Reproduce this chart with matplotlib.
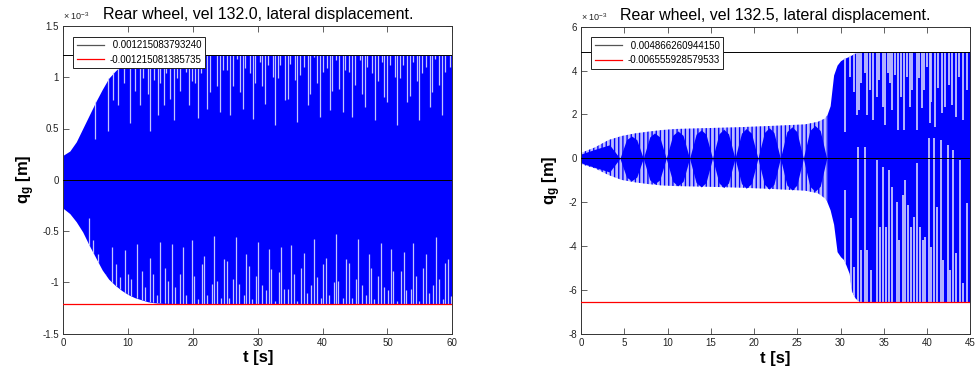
import numpy as np
import matplotlib
matplotlib.use("Agg")
import matplotlib.pyplot as plt
from matplotlib.lines import Line2D
from matplotlib.ticker import FuncFormatter, FixedLocator

plt.rcParams['font.family'] = ['Liberation Sans', 'DejaVu Sans']
plt.rcParams['mathtext.fontset'] = 'custom'
plt.rcParams['mathtext.rm'] = 'Liberation Sans'
plt.rcParams['mathtext.it'] = 'Liberation Sans:italic'
plt.rcParams['mathtext.bf'] = 'Liberation Sans:bold'
plt.rcParams['hatch.color'] = '#0000ff'
plt.rcParams['hatch.linewidth'] = 1.0

MM = 1e-3  # values below are in units of 1e-3 m

# ------------------------------------------------------------------ vel 132.0
a_title = "Rear wheel, vel 132.0, lateral displacement."
a_max = 0.001215083793240
a_min = -0.001215081385735
a_xticks = [0, 10, 20, 30, 40, 50, 60]
a_yticks = [-1.5, -1.0, -0.5, 0.0, 0.5, 1.0, 1.5]
a_xlim = (0, 60)
a_ylim = (-1.5, 1.5)
# signal envelope
a_env_t = [0, 1, 2, 3, 4, 5, 6, 7, 8, 9, 10, 11, 12, 13, 14, 16, 19, 60]
a_env_hi = [0.24, 0.28, 0.37, 0.50, 0.63, 0.76, 0.88, 0.99, 1.06, 1.12, 1.16,
            1.19, 1.21, 1.215, 1.215, 1.215, 1.215, 1.215]
a_env_lo = [-0.28, -0.33, -0.41, -0.51, -0.64, -0.76, -0.88, -0.97, -1.03, -1.08,
            -1.12, -1.15, -1.17, -1.19, -1.20, -1.21, -1.215, -1.215]
# sparse sample gaps reaching in from the upper peaks
a_up_t = [4.9, 6.9, 7.7, 8.5, 9.4, 10.3, 11.1, 11.8, 12.3, 13.1, 13.4, 14.0, 14.6, 14.9, 15.5,
          15.9, 16.5, 17.0, 17.5, 18.0, 19.0, 19.4, 19.8, 20.3, 20.7, 21.2, 22.2, 22.7, 23.7,
          24.2, 24.7, 25.3, 25.7, 26.1, 26.8, 27.3, 27.7, 28.1, 28.8, 29.2, 29.6, 30.3, 30.7,
          31.1, 31.5, 32.3, 32.7, 33.1, 33.5, 34.2, 34.6, 35.0, 35.7, 36.1, 36.5, 37.2, 37.7,
          38.1, 38.6, 39.2, 39.6, 40.0, 40.6, 41.2, 41.5, 42.0, 42.6, 43.1, 43.5, 44.1, 44.6,
          45.0, 45.7, 46.1, 46.5, 46.9, 47.6, 48.1, 48.5, 49.1, 49.5, 50.0, 50.4, 51.1, 51.5,
          51.9, 52.4, 53.0, 53.5, 53.9, 54.5, 54.9, 55.4, 56.0, 56.5, 56.9, 57.4, 58.0, 58.4,
          58.9, 59.6]
a_up_v = [0.40, 0.48, 0.78, 0.73, 0.94, 0.55, 0.87, 0.73, 0.99, 0.84, 0.48, 0.97, 0.63, 0.94,
          0.73, 1.04, 0.79, 0.58, 0.99, 0.87, 1.05, 0.73, 0.96, 0.94, 0.60, 1.04, 0.69, 0.86,
          0.91, 0.66, 1.07, 1.07, 0.63, 0.91, 1.18, 0.86, 0.69, 1.09, 1.04, 0.59, 0.94, 1.15,
          0.91, 0.74, 1.12, 1.00, 0.53, 0.99, 1.12, 0.78, 0.79, 1.13, 0.97, 0.56, 1.02, 1.10,
          0.73, 0.84, 1.20, 0.94, 0.61, 1.05, 1.09, 0.68, 0.87, 1.17, 0.89, 0.66, 1.07, 1.05,
          0.61, 0.92, 1.17, 0.84, 0.71, 1.10, 1.04, 0.58, 0.96, 1.15, 0.81, 0.76, 1.12, 1.00,
          0.53, 0.99, 1.12, 0.76, 0.82, 1.15, 0.96, 0.58, 1.04, 1.10, 0.71, 0.86, 1.18, 0.92,
          0.63, 1.05, 1.10]
# sparse sample gaps reaching in from the lower peaks
a_lo_t = [3.9, 4.6, 5.4, 6.4, 7.5, 8.2, 8.7, 9.5, 10.0, 10.5, 11.4, 12.1, 12.6, 13.4, 13.9,
          14.4, 14.9, 15.7, 16.2, 16.7, 17.2, 18.0, 18.5, 19.0, 19.8, 20.2, 20.7, 21.4, 21.7,
          22.1, 22.9, 23.3, 23.7, 24.3, 24.8, 25.2, 25.6, 26.2, 26.7, 27.1, 27.8, 28.2, 28.7,
          29.1, 29.7, 30.1, 30.6, 31.3, 31.7, 32.1, 32.7, 33.2, 33.6, 34.1, 34.7, 35.1, 35.6,
          36.1, 36.6, 37.1, 37.6, 38.2, 38.6, 39.1, 39.7, 40.1, 40.5, 41.0, 41.7, 42.0, 42.4,
          43.2, 43.6, 44.0, 44.5, 45.1, 45.5, 46.0, 46.7, 47.1, 47.5, 47.9, 48.6, 49.0, 49.4,
          50.1, 50.5, 50.9, 51.4, 52.1, 52.5, 52.9, 53.6, 54.0, 54.4, 54.9, 55.5, 55.9, 56.4,
          57.0, 57.5, 57.9, 58.5, 58.9, 59.4, 59.8]
a_lo_v = [-0.37, -0.59, -0.72, -0.92, -0.66, -0.82, -0.95, -0.69, -0.92, -0.97, -0.63, -0.89,
          -1.05, -0.76, -0.92, -1.12, -0.61, -0.86, -0.99, -0.63, -1.05, -0.92, -0.66, -1.12,
          -0.59, -0.94, -1.16, -0.82, -0.74, -1.12, -1.02, -0.55, -0.99, -1.15, -0.77, -0.79,
          -1.15, -0.97, -0.56, -1.02, -1.12, -0.72, -0.84, -1.16, -0.94, -0.61, -1.03, -1.08,
          -0.68, -0.87, -1.18, -0.90, -0.66, -1.07, -1.07, -0.64, -0.92, -1.18, -0.86, -0.71,
          -1.10, -1.03, -0.58, -0.95, -1.15, -0.82, -0.76, -1.12, -1.00, -0.53, -0.99, -1.15,
          -0.77, -0.81, -1.15, -0.97, -0.58, -1.03, -1.12, -0.72, -0.86, -1.16, -0.94, -0.62,
          -1.05, -1.08, -0.68, -0.89, -1.18, -0.89, -0.70, -1.08, -1.07, -0.62, -0.94, -1.18,
          -0.86, -0.72, -1.10, -1.03, -0.56, -0.97, -1.16, -0.81, -0.77, -1.13]

# ------------------------------------------------------------------ vel 132.5
b_title = "Rear wheel, vel 132.5, lateral displacement."
b_max = 0.004866260944150
b_min = -0.006555928579533
b_xticks = [0, 5, 10, 15, 20, 25, 30, 35, 40, 45]
b_yticks = [-8, -6, -4, -2, 0, 2, 4, 6]
b_xlim = (0, 45)
b_ylim = (-8, 6)
b_env_t = [0, 1.6, 3.2, 4.7, 6.25, 7.8, 9.3, 10.9, 14.5, 18.2, 22.0, 25.9, 27.4, 28.2, 28.4,
           28.8, 29.2, 29.6, 30.0, 30.4, 31.0, 31.3, 31.7, 32.1, 32.3, 45]
b_env_hi = [0.25, 0.50, 0.84, 1.02, 1.14, 1.22, 1.29, 1.34, 1.38, 1.42, 1.48, 1.55, 1.67, 1.82,
            1.95, 2.4, 3.8, 4.25, 4.45, 4.55, 4.65, 4.72, 4.80, 4.866, 4.866, 4.866]
b_env_lo = [-0.26, -0.45, -0.76, -0.98, -1.09, -1.17, -1.23, -1.26, -1.29, -1.33, -1.39, -1.47,
            -1.59, -1.82, -1.95, -2.35, -3.0, -4.25, -4.48, -4.63, -5.24, -6.07, -6.37, -6.50,
            -6.556, -6.556]
# dense core of the beating oscillation before the jump
b_lobe_t = [0.0, 1.5, 3.3, 4.5, 5.25, 5.85, 6.45, 7.2, 7.95, 8.5, 9.1, 9.85, 10.6, 11.2, 11.8,
            12.55, 13.3, 13.9, 14.45, 15.2, 15.95, 16.5, 17.05, 17.8, 18.55, 19.1, 19.7, 20.45,
            21.2, 21.75, 22.3, 23.05, 23.8, 24.4, 24.95, 25.7, 26.45, 27.05, 27.65, 28.4]
b_lobe_a = [0.20, 0.40, 0.62, 0.0, 0.85, 1.02, 0.85, 0.0, 0.98, 1.16, 0.98, 0.0, 1.05, 1.25,
            1.05, 0.0, 1.10, 1.30, 1.10, 0.0, 1.12, 1.33, 1.12, 0.0, 1.15, 1.36, 1.15, 0.0,
            1.18, 1.40, 1.18, 0.0, 1.22, 1.44, 1.22, 0.0, 1.27, 1.50, 1.27, 0.0]
b_jump_t = 28.4
b_up_t = [30.5, 31.1, 31.5, 31.9, 32.1, 32.4, 32.8, 33.1, 33.4, 33.8, 34.2, 34.5, 34.9, 35.1,
          35.5, 35.7, 36.0, 36.3, 36.7, 37.0, 37.3, 37.7, 38.0, 38.3, 38.8, 39.1, 39.4, 39.7,
          40.0, 40.3, 40.5, 40.9, 41.3, 41.7, 42.1, 42.5, 42.9, 43.3, 43.7, 44.1, 44.6]
b_up_v = [1.22, 3.72, 3.04, 1.98, 2.20, 3.42, 3.88, 1.98, 3.12, 1.75, 2.81, 3.57, 2.36, 1.52,
          3.88, 3.42, 2.20, 3.80, 1.29, 2.81, 1.29, 3.72, 2.36, 3.12, 1.29, 3.65, 2.28, 3.12,
          4.18, 1.60, 2.58, 1.44, 3.19, 2.05, 2.36, 3.34, 2.43, 1.90, 3.72, 1.75, 3.12]
b_lo_t = [30.5, 31.2, 31.6, 32.0, 32.4, 32.8, 33.1, 33.5, 34.2, 34.6, 34.9, 35.3, 35.6, 36.0,
          36.5, 36.8, 37.2, 37.5, 37.8, 38.2, 38.5, 38.8, 39.2, 39.5, 39.8, 40.2, 40.5, 40.8,
          41.2, 41.6, 41.9, 42.4, 42.7, 43.0, 43.4, 43.8, 44.2, 44.6]
b_lo_v = [-1.44, -2.73, -4.93, 0.53, -4.17, 0.53, -4.17, -5.08, -0.07, -3.11, -0.38, -3.11,
          -0.53, -1.29, -1.97, -3.72, -1.67, -0.98, -2.12, -3.11, -2.66, -0.22, -3.11, -3.72,
          -3.57, 0.92, -4.02, 0.92, -2.20, 0.84, -4.63, 0.61, -5.08, 0.38, -4.32, -0.07,
          -5.69, -2.05]

SIG = '#0000ff'
GAP = '#c4c4ff'
HALF = '#bcbcff'


def m(vals):
    return np.asarray(vals, dtype=float) * MM


def gaps(ax, t, v, edge, clip, lw):
    col = ax.vlines(t, m(v), edge, colors=GAP, linewidth=lw, zorder=3)
    col.set_clip_path(clip.get_paths()[0], ax.transData)


def style(ax, title, xticks, yticks, xlim, ylim, vmax, vmin):
    ax.set_xlim(*xlim)
    ax.set_ylim(m(ylim)[0], m(ylim)[1])
    ax.xaxis.set_major_locator(FixedLocator(xticks))
    ax.yaxis.set_major_locator(FixedLocator(m(yticks)))
    ax.xaxis.set_major_formatter(FuncFormatter(lambda v, p: f"{v:g}"))
    ax.yaxis.set_major_formatter(FuncFormatter(lambda v, p: f"{round(v / MM, 6):g}"))
    ax.tick_params(direction='in', top=True, right=True, labelsize=7, length=4,
                   width=0.5, pad=3, colors='#222222')
    for s in ax.spines.values():
        s.set_linewidth(0.7)
        s.set_color('#333333')
    ax.set_title(title, fontsize=11.5, pad=5)
    ax.set_xlabel("t [s]", fontsize=12, fontweight='bold', labelpad=2)
    ax.set_ylabel(r"q$_{\mathregular{g}}$ [m]", fontsize=12, fontweight='bold', labelpad=4)
    ax.text(0.0, 1.012, r"× 10$^{-3}$", transform=ax.transAxes, fontsize=6.5,
            ha='left', va='bottom', color='#222222')
    ax.axhline(0, color='k', lw=0.7, zorder=5)
    ax.axhline(vmax, color='k', lw=0.7, zorder=5)
    ax.axhline(vmin, color='#ff0000', lw=0.9, zorder=5)
    handles = [Line2D([], [], color='#555555', lw=0.9), Line2D([], [], color='#ff0000', lw=0.9)]
    leg = ax.legend(handles, [f"{vmax: .15f}", f"{vmin: .15f}"], loc='upper left',
                    bbox_to_anchor=(0.026, 0.965), borderaxespad=0, fontsize=7,
                    frameon=True, fancybox=False, framealpha=1, edgecolor='#222222',
                    handlelength=2.8, handletextpad=0.6, borderpad=0.35, labelspacing=0.45)
    leg.get_frame().set_linewidth(0.7)
    leg.set_zorder(10)


fig = plt.figure(figsize=(9.77, 3.74), dpi=100)
ax1 = fig.add_axes([63.3 / 977, 1 - 333.5 / 374, 389.0 / 977, 307.5 / 374])
ax2 = fig.add_axes([581.0 / 977, 1 - 334.0 / 374, 389.3 / 977, 307.3 / 374])

# left: steady limit cycle
body = ax1.fill_between(a_env_t, m(a_env_lo), m(a_env_hi), color=SIG, lw=0, zorder=2)
gaps(ax1, a_up_t, a_up_v, a_max, body, 0.9)
gaps(ax1, a_lo_t, a_lo_v, a_min, body, 0.9)
style(ax1, a_title, a_xticks, a_yticks, a_xlim, a_ylim, a_max, a_min)

# right: beating oscillation followed by a jump to a larger cycle
t_b = np.asarray(b_env_t)
ax2.fill_between(t_b, m(b_env_lo), m(b_env_hi), where=t_b <= b_jump_t, facecolor=HALF,
                 edgecolor=SIG, hatch='||||', lw=0, zorder=2)
ax2.fill_between(b_lobe_t, -m(b_lobe_a), m(b_lobe_a), color=SIG, lw=0, zorder=2)
big = ax2.fill_between(t_b, m(b_env_lo), m(b_env_hi), where=t_b >= b_jump_t, color=SIG, lw=0, zorder=2)
gaps(ax2, b_up_t, b_up_v, b_max, big, 1.3)
gaps(ax2, b_lo_t, b_lo_v, b_min, big, 1.3)
style(ax2, b_title, b_xticks, b_yticks, b_xlim, b_ylim, b_max, b_min)

fig.savefig("out.png", dpi=100)
